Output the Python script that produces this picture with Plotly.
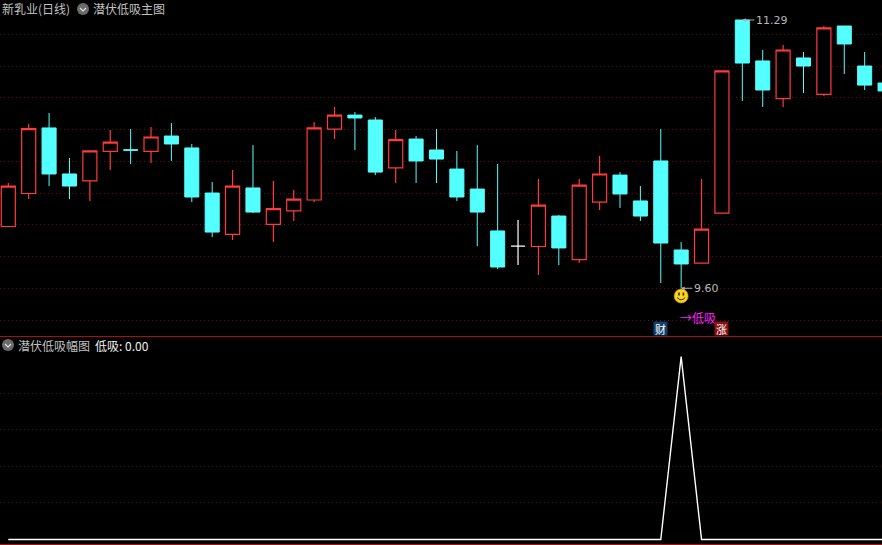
import plotly.graph_objects as go

W, H = 882, 545
days = list(range(44))
opens = [9.989,10.197,10.610,10.320,10.276,10.462,10.472,10.462,10.559,10.484,10.200,
         9.939,10.232,10.002,10.087,10.156,10.603,10.691,10.660,10.358,10.540,10.471,
         10.351,10.225,9.961,9.866,9.863,10.055,9.781,10.143,10.313,10.150,10.402,
         9.841,9.759,10.074,11.290,11.032,10.795,11.051,10.821,11.252,11.000,10.893]
closes = [10.244,10.606,10.320,10.244,10.465,10.521,10.470,10.553,10.509,10.175,9.954,
          10.244,10.080,10.102,10.162,10.610,10.691,10.673,10.332,10.537,10.402,10.414,
          10.175,10.080,9.734,9.866,10.124,9.854,10.250,10.320,10.194,10.055,9.885,
          9.753,9.973,10.969,11.019,10.849,11.101,11.000,11.240,11.139,10.880,10.843]
highs = [10.263,10.635,10.704,10.421,10.465,10.597,10.603,10.616,10.641,10.509,10.269,
         10.345,10.502,10.276,10.219,10.647,10.742,10.710,10.679,10.597,10.559,10.603,
         10.465,10.502,10.383,10.030,10.288,10.061,10.288,10.433,10.332,10.244,10.603,
         9.891,10.288,10.969,11.290,11.101,11.132,11.088,11.252,11.252,11.088,10.893]
lows = [9.989,10.162,10.244,10.162,10.150,10.345,10.383,10.389,10.402,10.143,9.923,
        9.904,10.074,9.891,10.024,10.143,10.540,10.471,10.313,10.263,10.263,10.263,
        10.150,9.866,9.721,9.746,9.683,9.746,9.759,10.093,10.106,10.024,9.633,
        9.600,9.759,10.074,10.780,10.742,10.742,10.830,10.811,10.950,10.849,10.843]
signal = [0]*33 + [1] + [0]*10
price_grid = [9.4, 9.6, 9.8, 10.0, 10.2, 10.4, 10.6, 10.8, 11.0, 11.2]
signal_grid = [0.2, 0.4, 0.6, 0.8]

RED, CYAN = "#ff3a3a", "#54ffff"
GRID, FRAME = "#640b10", "#a80f0f"


def pick(values, idx):
    return [values[i] for i in idx]


moving = [i for i in days if opens[i] != closes[i]]
flat = [i for i in days if opens[i] == closes[i]]


def candle(idx, up, down, upfill):
    return go.Candlestick(
        x=pick(days, idx), open=pick(opens, idx), high=pick(highs, idx),
        low=pick(lows, idx), close=pick(closes, idx), xaxis="x", yaxis="y",
        whiskerwidth=0, hoverinfo="skip",
        increasing=dict(line=dict(color=up, width=1.2), fillcolor=upfill),
        decreasing=dict(line=dict(color=down, width=1), fillcolor=down),
    )


fig = go.Figure()
fig.add_trace(candle(moving, RED, CYAN, "#000000"))
fig.add_trace(candle(flat, "#ffffff", "#ffffff", "#ffffff"))
fig.add_trace(go.Scatter(x=days, y=signal, xaxis="x2", yaxis="y2", mode="lines",
                         line=dict(color="#ffffff", width=1.4), hoverinfo="skip"))

xr = [-0.407, 42.85]
price_top, price_bottom = 11.416, 9.293


def fx(px):
    return px / W


def fy(py):
    return 1 - py / H


CJK = "Noto Sans CJK SC, Liberation Sans, sans-serif"
GRAY = "#c0c0c0"


def label(text, px, py, color=GRAY, size=12):
    return dict(text=text, xref="paper", yref="paper", x=fx(px), y=fy(py), xanchor="left",
                yanchor="middle", showarrow=False, font=dict(family=CJK, size=size, color=color))


def stamp(text, day, price, bg):
    return dict(text=text, xref="x", yref="y", x=day, y=price, showarrow=False, width=13, height=13,
                borderpad=0, bgcolor=bg, font=dict(family=CJK, size=11, color="#ffffff"))


def extreme(text, day, price, offset):
    return dict(text=text, xref="x", yref="y", x=day, y=price, ax=offset, ay=0, xanchor="left",
                showarrow=True, arrowhead=2, arrowsize=0.7, arrowwidth=1, arrowcolor="#b0b0b0",
                standoff=0, font=dict(family="DejaVu Sans", size=11, color="#b8b8b8"))


annotations = [
    label("新乳业(日线)", 0, 9),
    label("潜伏低吸主图", 91, 9),
    label("潜伏低吸幅图", 16, 345),
    label("低吸: 0.00", 93, 345, "#f0f0f0"),
    extreme("11.29", days[36], 11.29, 12),
    extreme("9.60", days[33], 9.60, 11),
    dict(text="→低吸", xref="x", yref="y", x=days[33], y=9.413, xanchor="left", showarrow=False,
         xshift=-3, font=dict(family=CJK, size=12, color="#ff20ff")),
    stamp("财", days[32], 9.346, "#12406e"),
    stamp("涨", days[35], 9.346, "#8c1212"),
]


def icon(cx, cy):
    return [
        dict(type="circle", xref="paper", yref="paper", xsizemode="pixel", ysizemode="pixel",
             xanchor=fx(cx), yanchor=fy(cy), x0=-6, x1=6, y0=-6, y1=6,
             fillcolor="#6a6a6a", line=dict(width=0)),
        dict(type="path", xref="paper", yref="paper", xsizemode="pixel", ysizemode="pixel",
             xanchor=fx(cx), yanchor=fy(cy), path="M -3 1 L 0 -2 L 3 1",
             line=dict(color="#e0e0e0", width=1.2)),
    ]


smile_day, smile_price = days[33], 9.551


def smile(**kw):
    return dict(xref="x", yref="y", xsizemode="pixel", ysizemode="pixel",
                xanchor=smile_day, yanchor=smile_price, **kw)


shapes = icon(83, 9) + icon(8, 345) + [
    smile(type="circle", x0=-7, x1=7, y0=-7, y1=7, fillcolor="#f7d21e", line=dict(color="#d89a10", width=0.6)),
    smile(type="rect", x0=-3, x1=-1.4, y0=0.5, y1=3.5, fillcolor="#3a2a00", line=dict(width=0)),
    smile(type="rect", x0=1.4, x1=3, y0=0.5, y1=3.5, fillcolor="#3a2a00", line=dict(width=0)),
    smile(type="path", path="M -4 -1.5 Q 0 -6 4 -1.5", line=dict(color="#3a2a00", width=1)),
]

grid = dict(showgrid=True, gridcolor=GRID, gridwidth=1, griddash="1px,3px", zeroline=False,
            showticklabels=False, ticks="", tickmode="array")

fig.update_layout(
    width=W, height=H, margin=dict(l=0, r=0, t=0, b=0), paper_bgcolor="#000000",
    plot_bgcolor="#000000", showlegend=False, hovermode=False, boxgap=0.31, boxgroupgap=0,
    boxmode="overlay",
    xaxis=dict(domain=[0, 1], range=xr, visible=False, rangeslider=dict(visible=False), anchor="y"),
    yaxis=dict(domain=[fy(337), 1], range=[price_bottom, price_top], tickvals=price_grid, anchor="x", **grid),
    xaxis2=dict(domain=[0, 1], range=xr, showgrid=False, zeroline=False, showticklabels=False, ticks="",
                showline=True, linecolor=FRAME, linewidth=1, mirror=True, anchor="y2"),
    yaxis2=dict(domain=[fy(543.5), fy(337)], range=[-0.0219, 1.107], tickvals=signal_grid, anchor="x2", **grid),
    annotations=annotations, shapes=shapes,
)

fig.write_html("out.html", config=dict(displayModeBar=False),
               post_script="document.body.style.margin='0';document.body.style.overflow='hidden';")
